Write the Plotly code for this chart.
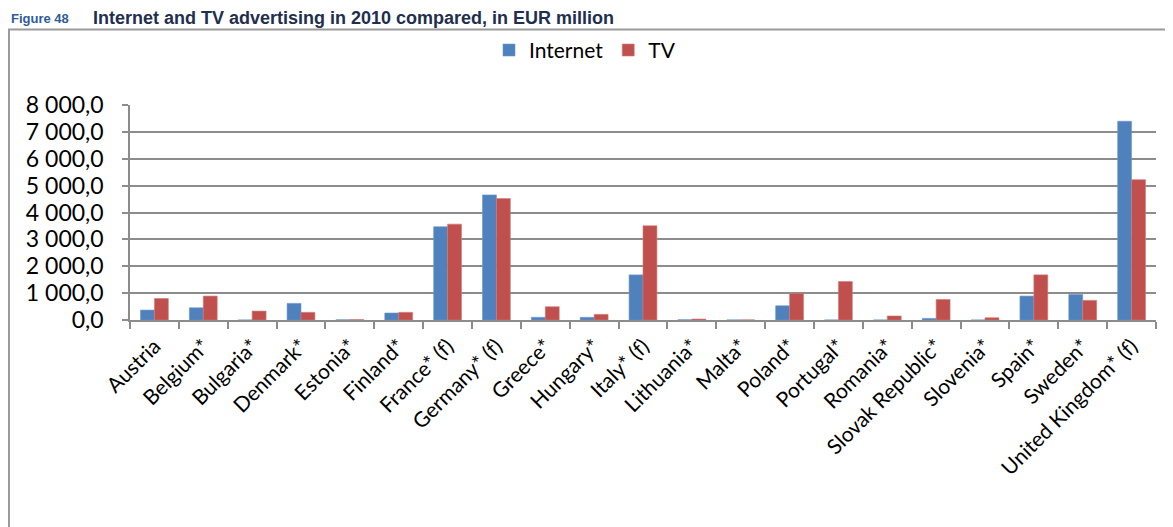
import plotly.graph_objects as go

categories = ["Austria", "Belgium*", "Bulgaria*", "Denmark*", "Estonia*", "Finland*",
              "France* (f)", "Germany* (f)", "Greece*", "Hungary*", "Italy* (f)",
              "Lithuania*", "Malta*", "Poland*", "Portugal*", "Romania*",
              "Slovak Republic*", "Slovenia*", "Spain*", "Sweden*", "United Kingdom* (f)"]
internet = [370, 455, 0, 618, 8, 260, 3470, 4655, 100, 100, 1679,
            10, 2, 530, 0, 0, 60, 0, 890, 950, 7395]
tv = [800, 890, 333, 285, 15, 285, 3567, 4519, 494, 210, 3506,
      37, 4, 988, 1432, 150, 765, 85, 1680, 730, 5222]

OFF = 8  # page body margin
W, H = 1173 - OFF, 527 - OFF
# plot area in page pixels
L, R, T, B = 130, 1156, 104.7, 320
pw, ph = R - L, B - T


def px(x):
    return (x - L) / pw


def py(y):
    return (B - y) / ph


FONT = "Lato"
grid = "#8c8c8c"

fig = go.Figure()
fig.add_trace(go.Bar(name="Internet", x=categories, y=internet,
                     marker=dict(color="#4F81BD", line=dict(color="#6E97C9", width=0.6))))
fig.add_trace(go.Bar(name="TV", x=categories, y=tv,
                     marker=dict(color="#C0504D", line=dict(color="#D27A77", width=0.6))))

fig.update_layout(
    width=W, height=H,
    margin=dict(l=L - OFF, r=(1173 - R), t=T - OFF, b=(527 - B), autoexpand=False),
    paper_bgcolor="white", plot_bgcolor="white",
    separators=", ",
    barmode="group", bargap=0.43, bargroupgap=0,
    font=dict(family=FONT, size=21, color="black"),
    showlegend=True,
    legend=dict(orientation="h", x=px(585), y=py(50), xanchor="center", yanchor="middle",
                font=dict(family=FONT, size=21, color="black"), itemwidth=30,
                traceorder="normal", bgcolor="rgba(0,0,0,0)"),
    xaxis=dict(type="category", showgrid=False, showline=True, linecolor=grid, linewidth=1.5,
               ticks="outside", tickson="boundaries", ticklen=7, tickcolor=grid, tickwidth=1.5,
               tickangle=-45, ticklabelstandoff=4,
               tickfont=dict(family=FONT, size=21, color="black")),
    yaxis=dict(range=[0, 8000], dtick=1000, tickformat=",.1f", showgrid=True, gridcolor=grid,
               gridwidth=1.5, showline=True, linecolor=grid, linewidth=1.5, ticks="outside",
               ticklen=6, tickcolor=grid, tickwidth=1.5, zeroline=False, ticklabelstandoff=14,
               tickfont=dict(family=FONT, size=23, color="black")),
)

fig.add_shape(type="rect", xref="paper", yref="paper",
              x0=px(9), x1=px(1200), y0=py(29), y1=py(560),
              line=dict(color="#9a9a9a", width=2), fillcolor="rgba(0,0,0,0)", layer="below")

fig.add_annotation(xref="paper", yref="paper", x=px(10), y=py(10), xanchor="left", yanchor="top",
                   text="<b>Figure 48</b>", showarrow=False, borderpad=0,
                   font=dict(family="Liberation Sans", size=13, color="#2E5C9A"))
fig.add_annotation(xref="paper", yref="paper", x=px(92), y=py(7), xanchor="left", yanchor="top",
                   text="<b>Internet and TV advertising in 2010 compared, in EUR million</b>",
                   showarrow=False, borderpad=0,
                   font=dict(family="Liberation Sans", size=18, color="#1F2F4F"))

fig.write_html("out.html")
